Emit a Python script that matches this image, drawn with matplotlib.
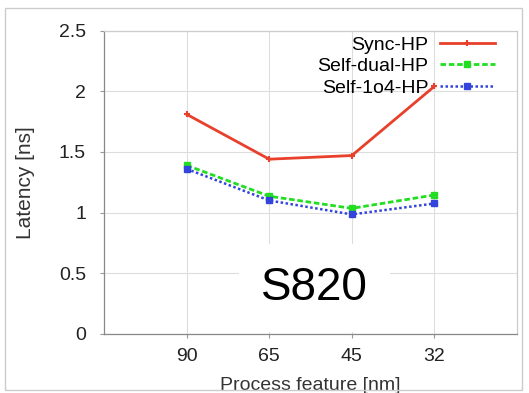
import numpy as np
import matplotlib.pyplot as plt
from matplotlib.patches import Rectangle

plt.rcParams['font.family'] = ['Liberation Sans', 'DejaVu Sans']

# process nodes and latency values (ns)
nodi = ['90', '65', '45', '32']
sync_hp = [1.81, 1.44, 1.47, 2.04]
self_dual_hp = [1.39, 1.135, 1.035, 1.145]
self_1o4_hp = [1.36, 1.10, 0.985, 1.075]

x = np.arange(1, len(nodi) + 1)

fig = plt.figure(figsize=(5.29, 3.93), dpi=100)
ax = fig.add_axes([104 / 529, 1 - 334 / 393, 413 / 529, 303.5 / 393])

ax.plot(x, sync_hp, color='#e8402a', lw=2, marker='+', ms=4, mew=1.5,
        label='Sync-HP', zorder=4)
ax.plot(x, self_dual_hp, color='#22dd22', lw=2, ls=(0, (2, 1)), marker='s',
        ms=4, label='Self-dual-HP', zorder=3)
ax.plot(x, self_1o4_hp, color='#3344dd', lw=1.8, ls=(0, (1, 1)), marker='s',
        ms=4, label='Self-1o4-HP', zorder=3)

ax.set_xlim(0, 5)
ax.set_ylim(0, 2.5)
ax.set_xticks(x)
ax.set_xticklabels(nodi)
ax.set_yticks([0, 0.5, 1, 1.5, 2, 2.5])
ax.set_yticklabels(['0', '0.5', '1', '1.5', '2', '2.5'])
ax.tick_params(labelsize=14, labelcolor='#222222', length=3, color='#999999')
ax.tick_params(axis='x', pad=7)
ax.tick_params(axis='y', pad=10)
ax.grid(True, color='#dddddd', lw=0.8)
ax.set_axisbelow(True)
for s in ax.spines.values():
    s.set_color('#888888')
    s.set_linewidth(0.9)
ax.spines['top'].set_color('#cccccc')
ax.spines['right'].set_color('#cccccc')

ax.set_xlabel('Process feature [nm]', fontsize=14, color='#333333', labelpad=9)
ax.set_ylabel('Latency [ns]', fontsize=15, color='#333333', labelpad=17)

# nome del circuito con fondo bianco sopra la griglia
ax.text(2.55, 0.38, 'S820', fontsize=33, ha='center', va='center',
        color='black', zorder=5,
        bbox=dict(facecolor='white', edgecolor='none', pad=16))

leg = ax.legend(loc='upper right', bbox_to_anchor=(0.955, 0.995),
                frameon=False, fontsize=14,
                markerfirst=False, handlelength=2.8, labelspacing=0.2,
                borderaxespad=0.0, borderpad=0.2, handletextpad=0.6)

# cornice esterna
fig.patches.append(Rectangle((5 / 529, 3 / 393), 517 / 529, 382 / 393,
                             transform=fig.transFigure, fill=False,
                             edgecolor='#cccccc', lw=1))

fig.savefig('out.png', dpi=100)
